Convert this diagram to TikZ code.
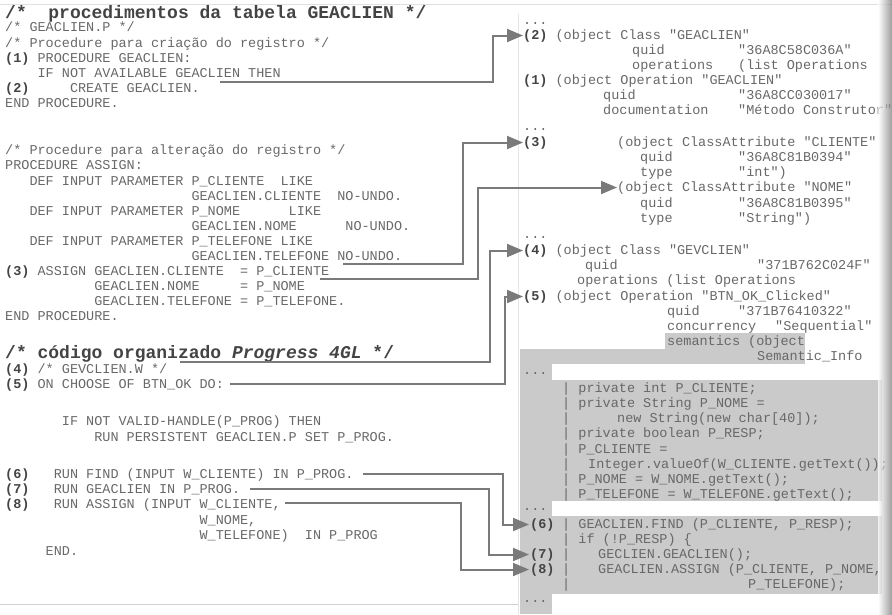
\documentclass[tikz,border=0pt]{standalone}
\usepackage{fontspec}
\newfontfamily\codefont{Liberation Mono}
\usetikzlibrary{arrows.meta}
\frenchspacing

\definecolor{codegray}{HTML}{686868}
\definecolor{numgray}{HTML}{444444}
\definecolor{linkgray}{HTML}{7A7A7A}
\definecolor{shadegray}{HTML}{CACACA}

\newcommand\lbl[1]{{\color{numgray}\bfseries #1}}

\tikzset{
  code/.style={anchor=base west, inner sep=0pt, text=codegray,
    font={\codefont\fontsize{13.5}{15}\selectfont}},
  head/.style={code, text=numgray,
    font={\codefont\fontsize{18}{20}\selectfont\bfseries}},
  link/.style={draw=linkgray, line width=2pt,
    -{Triangle[length=16pt,width=13pt]}},
}

\begin{document}
\begin{tikzpicture}[x=1pt, y=-1pt]

    % --- Adjustable parameters ---
    \def\cw{8.1}   % width of one code character
    \def\xl{5}     % left margin of the Progress listing

    \useasboundingbox (0,0) rectangle (892,614);
    \clip (0,0) rectangle (892,614);

    % --- Scan frame ---
    \draw[black!12, line width=0.8pt] (0,4) -- (892,4);
    \draw[black!10, line width=0.8pt] (518,14) -- (518,614);
    \draw[black!18, line width=0.8pt] (0,604) -- (518,604);

    % --- Shaded Java part ---
    \fill[shadegray] (665,333) rectangle (805,349);
    \fill[shadegray] (520,349) rectangle (805,364);
    \fill[shadegray] (520,364) rectangle (552,614);
    \fill[shadegray] (520,380) rectangle (882,501);
    \fill[shadegray] (520,516) rectangle (882,594);

    % --- Progress procedures (left) ---
    \node[head] (t1) at (\xl,18) {/*~~procedimentos da tabela GEACLIEN */};
    \node[code] (l1) at (\xl,31) {/* GEACLIEN.P */};
    \node[code] (l2) at (\xl,47) {/* Procedure para criação do registro */};
    \node[code] (l3) at (\xl,62) {\lbl{(1)} PROCEDURE GEACLIEN:};
    \node[code] (l4) at ({\xl+4*\cw},77) {IF NOT AVAILABLE GEACLIEN THEN};
    \node[code] (l5) at (\xl,92) {\lbl{(2)}~~~~~CREATE GEACLIEN.};
    \node[code] (l6) at (\xl,107) {END PROCEDURE.};

    \node[code] (l7) at (\xl,154) {/* Procedure para alteração do registro */};
    \node[code] (l8) at (\xl,169) {PROCEDURE ASSIGN:};
    \node[code] (l9) at ({\xl+3*\cw},185) {DEF INPUT PARAMETER P\_CLIENTE~~LIKE};
    \node[code] (l10) at ({\xl+23*\cw},200) {GEACLIEN.CLIENTE~~NO-UNDO.};
    \node[code] (l11) at ({\xl+3*\cw},215) {DEF INPUT PARAMETER P\_NOME~~~~~~LIKE};
    \node[code] (l12) at ({\xl+23*\cw},230) {GEACLIEN.NOME~~~~~~NO-UNDO.};
    \node[code] (l13) at ({\xl+3*\cw},245) {DEF INPUT PARAMETER P\_TELEFONE LIKE};
    \node[code] (l14) at ({\xl+23*\cw},260) {GEACLIEN.TELEFONE NO-UNDO.};
    \node[code] (l15) at (\xl,275) {\lbl{(3)} ASSIGN GEACLIEN.CLIENTE~~= P\_CLIENTE};
    \node[code] (l16) at ({\xl+11*\cw},290) {GEACLIEN.NOME~~~~~= P\_NOME};
    \node[code] (l17) at ({\xl+11*\cw},305) {GEACLIEN.TELEFONE = P\_TELEFONE.};
    \node[code] (l18) at (\xl,320) {END PROCEDURE.};

    % --- Progress window code ---
    \node[head] (t2) at (\xl,358) {/* código organizado \textit{Progress 4GL} */};
    \node[code] (l19) at (\xl,373) {\lbl{(4)} /* GEVCLIEN.W */};
    \node[code] (l20) at (\xl,388) {\lbl{(5)} ON CHOOSE OF BTN\_OK DO:};
    \node[code] (l21) at ({\xl+7*\cw},425) {IF NOT VALID-HANDLE(P\_PROG) THEN};
    \node[code] (l22) at ({\xl+11*\cw},441) {RUN PERSISTENT GEACLIEN.P SET P\_PROG.};
    \node[code] (l23) at (\xl,478) {\lbl{(6)}~~~RUN FIND (INPUT W\_CLIENTE) IN P\_PROG.};
    \node[code] (l24) at (\xl,493) {\lbl{(7)}~~~RUN GEACLIEN IN P\_PROG.};
    \node[code] (l25) at (\xl,508) {\lbl{(8)}~~~RUN ASSIGN (INPUT W\_CLIENTE,};
    \node[code] (l26) at ({\xl+24*\cw},524) {W\_NOME,};
    \node[code] (l27) at ({\xl+24*\cw},539) {W\_TELEFONE)~~IN P\_PROG};
    \node[code] (l28) at ({\xl+5*\cw},555) {END.};

    % --- Rational Rose model (right) ---
    \node[code] (rd1) at (523,24) {...};
    \node[code] (r2) at (523,39) {\lbl{(2)} (object Class "GEACLIEN"};
    \node[code] (r2a) at (632,54) {quid};
    \node[code] (r2av) at (738,54) {"36A8C58C036A"};
    \node[code] (r2b) at (632,69) {operations};
    \node[code] (r2bv) at (738,69) {(list Operations};
    \node[code] (r1) at (523,84) {\lbl{(1)} (object Operation "GEACLIEN"};
    \node[code] (r1a) at (603,99) {quid};
    \node[code] (r1av) at (738,99) {"36A8CC030017"};
    \node[code] (r1b) at (603,114) {documentation};
    \node[code] (r1bv) at (738,114) {"Método Construtor"};

    \node[code] (rd2) at (523,130) {...};
    \node[code] (r3) at (523,146) {\lbl{(3)}};
    \node[code] (r3o) at (617,146) {(object ClassAttribute "CLIENTE"};
    \node[code] (r3a) at (640,161) {quid};
    \node[code] (r3av) at (738,161) {"36A8C81B0394"};
    \node[code] (r3b) at (640,176) {type};
    \node[code] (r3bv) at (738,176) {"int")};
    \node[code] (rnome) at (617,191) {(object ClassAttribute "NOME"};
    \node[code] (rna) at (640,207) {quid};
    \node[code] (rnav) at (738,207) {"36A8C81B0395"};
    \node[code] (rnb) at (640,222) {type};
    \node[code] (rnbv) at (738,222) {"String")};

    \node[code] (rd3) at (523,238) {...};
    \node[code] (r4) at (523,254) {\lbl{(4)} (object Class "GEVCLIEN"};
    \node[code] (r4a) at (585,269) {quid};
    \node[code] (r4av) at (757,269) {"371B762C024F"};
    \node[code] (r4b) at (577,284) {operations (list Operations};
    \node[code] (r5) at (523,300) {\lbl{(5)} (object Operation "BTN\_OK\_Clicked"};
    \node[code] (r5a) at (667,315) {quid};
    \node[code] (r5av) at (738,315) {"371B76410322"};
    \node[code] (r5b) at (667,330) {concurrency};
    \node[code] (r5bv) at (775,330) {"Sequential"};
    \node[code] (r5c) at (667,345) {semantics (object};
    \node[code] (r5d) at (757,360) {Semantic\_Info};

    % --- Java code (right, shaded) ---
    \node[code] (rd4) at (523,374) {...};
    \node[code] (j1) at (562,392) {| private int P\_CLIENTE;};
    \node[code] (j2) at (562,407) {| private String P\_NOME =};
    \node[code] (j3) at (562,422) {|};
    \node[code] (j3v) at (617,422) {new String(new char[40]);};
    \node[code] (j4) at (562,437) {| private boolean P\_RESP;};
    \node[code] (j5) at (562,453) {| P\_CLIENTE =};
    \node[code] (j6) at (562,468) {|};
    \node[code] (j6v) at (588,468) {Integer.valueOf(W\_CLIENTE.getText());};
    \node[code] (j7) at (562,483) {| P\_NOME = W\_NOME.getText();};
    \node[code] (j8) at (562,498) {| P\_TELEFONE = W\_TELEFONE.getText();};

    \node[code] (rd5) at (523,510) {...};
    \node[code] (r6) at (530,528) {\lbl{(6)}};
    \node[code] (k1) at (562,528) {| GEACLIEN.FIND (P\_CLIENTE, P\_RESP);};
    \node[code] (k2) at (562,543) {| if (!P\_RESP) \{};
    \node[code] (r7) at (530,558) {\lbl{(7)}};
    \node[code] (k3) at (562,558) {|};
    \node[code] (k3v) at (598,558) {GECLIEN.GEACLIEN();};
    \node[code] (r8) at (530,573) {\lbl{(8)}};
    \node[code] (k4) at (562,573) {|};
    \node[code] (k4v) at (598,573) {GEACLIEN.ASSIGN (P\_CLIENTE, P\_NOME,};
    \node[code] (k5) at (562,588) {|};
    \node[code] (k5v) at (748,588) {P\_TELEFONE);};
    \node[code] (rd6) at (523,602) {...};

    % --- Start points of the links ---
    \coordinate (a0) at (220,82);
    \coordinate (b0) at (343,264);
    \coordinate (c0) at (320,279);
    \coordinate (d0) at (180,362);
    \coordinate (e0) at (230,384);
    \coordinate (f0) at (363,474);
    \coordinate (g0) at (250,489);
    \coordinate (h0) at (285,503);

    % --- Links ---
    \draw[link] (a0) -| ([xshift=-30pt]r2.west) -- (r2.west);
    \draw[link] (b0) -| ([xshift=-60pt]r3.west) -- (r3.west);
    \draw[link] (c0) -| ([xshift=-139pt]rnome.west) -- (rnome.west);
    \draw[link] (d0) -| ([xshift=-33pt]r4.west) -- (r4.west);
    \draw[link] (e0) -| ([xshift=-18pt]r5.west) -- (r5.west);
    \draw[link] (f0) -| ([xshift=-27pt]r6.west) -- ([xshift=-1pt]r6.west);
    \draw[link] (g0) -| ([xshift=-41pt]r7.west) -- ([xshift=-1pt]r7.west);
    \draw[link] (h0) -| ([xshift=-69pt]r8.west) -- ([xshift=-1pt]r8.west);

    % --- Scan shadow at the right edge ---
    \shade[left color=white, right color=black!55, opacity=0.7] (878,0) rectangle (892,614);

\end{tikzpicture}
\end{document}
